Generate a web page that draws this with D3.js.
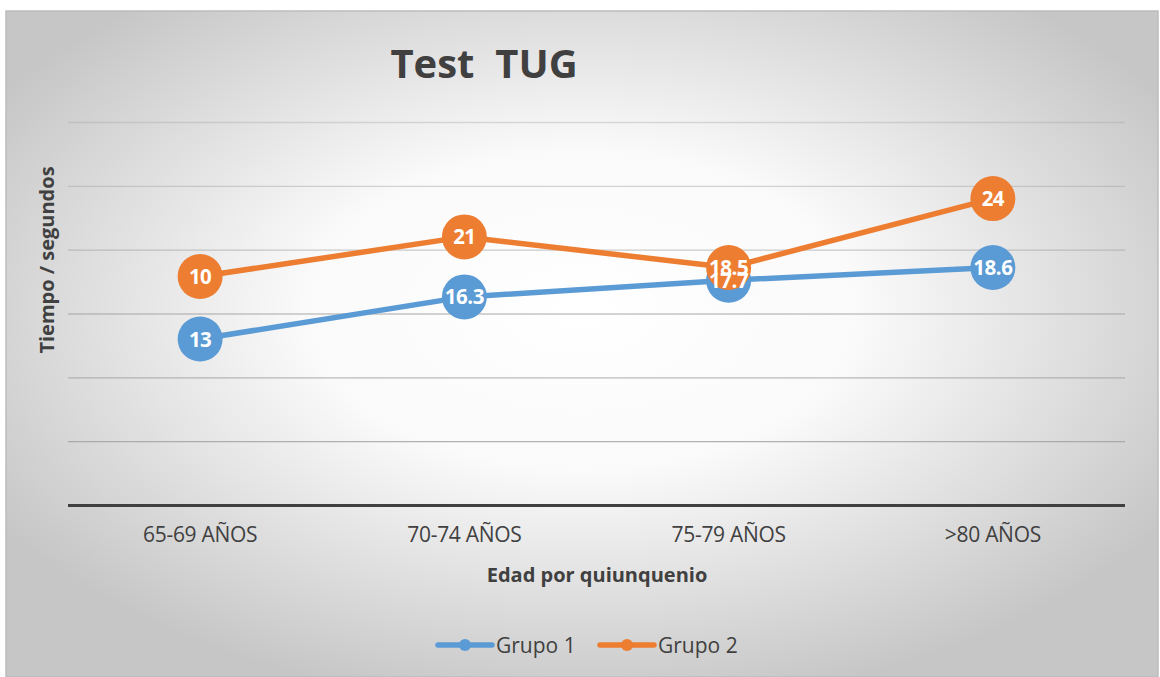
<!DOCTYPE html>
<html>
<head>
<meta charset="utf-8">
<script src="https://cdn.jsdelivr.net/npm/d3@7"></script>
<style>
  body { margin: 0; background: #fff; }
  svg { display: block; }
</style>
</head>
<body>
<div id="chart"></div>
<script>
let width = 1160;
let height = 677;

let categories = ["65-69 AÑOS", "70-74 AÑOS", "75-79 AÑOS", ">80 AÑOS"];
let grupo1 = [13, 16.3, 17.6, 18.6];
let grupo1Labels = ["13", "16.3", "17.7", "18.6"];
let grupo2 = [17.9, 21, 18.6, 24];
let grupo2Labels = ["10", "21", "18.5", "24"];
let yTicks = [0, 5, 10, 15, 20, 25, 30];

let series = [
    { name: "Grupo 1", values: grupo1, labels: grupo1Labels, color: "#5b9bd5" },
    { name: "Grupo 2", values: grupo2, labels: grupo2Labels, color: "#ed7d31" }
];

let margin = { left: 68, right: 35, top: 122, bottom: 172 };

let svg = d3.select("#chart")
    .append("svg")
    .attr("width", width)
    .attr("height", height)
    .style("font-family", "'Open Sans', sans-serif");

// background
let defs = svg.append("defs");
let grad = defs.append("radialGradient")
    .attr("id", "bg")
    .attr("cx", "0.5").attr("cy", "0.45").attr("r", "0.6");
grad.append("stop").attr("offset", "0%").attr("stop-color", "#ffffff");
grad.append("stop").attr("offset", "40%").attr("stop-color", "#fafafa");
grad.append("stop").attr("offset", "100%").attr("stop-color", "#c6c6c6");

svg.append("rect")
    .attr("x", 6).attr("y", 11)
    .attr("width", 1152).attr("height", 666)
    .attr("fill", "url(#bg)")
    .attr("stroke", "#bcbcbc")
    .attr("stroke-width", 1.5);

let x = d3.scaleBand()
    .domain(categories)
    .range([margin.left, width - margin.right]);

let y = d3.scaleLinear()
    .domain([0, 30])
    .range([height - margin.bottom, margin.top]);

// gridlines
let grid = svg.append("g")
    .attr("transform", `translate(${margin.left},0)`)
    .call(d3.axisLeft(y).tickValues(yTicks).tickSize(-(width - margin.left - margin.right)).tickFormat(""));
grid.select(".domain").remove();
grid.selectAll(".tick line")
    .attr("stroke", (d) => d === 0 ? "#404040" : "#a0a0a0")
    .attr("stroke-opacity", (d) => d === 0 ? 1 : 0.35 + 0.55 * (1 - d / 30))
    .attr("stroke-width", (d) => d === 0 ? 3 : 1.3);

// x axis labels
let xAxis = svg.append("g")
    .attr("transform", `translate(0,${y(0)})`)
    .call(d3.axisBottom(x).tickSize(0).tickPadding(22));
xAxis.select(".domain").remove();
xAxis.selectAll("text")
    .attr("font-size", 21)
    .attr("font-family", "'Open Sans', sans-serif")
    .attr("fill", "#404040")
    .style("letter-spacing", "-0.3px");

// title
svg.append("text")
    .attr("x", 484).attr("y", 78)
    .attr("text-anchor", "middle")
    .attr("font-size", 40)
    .attr("font-weight", "bold")
    .attr("fill", "#404040")
    .style("white-space", "pre")
    .text("Test  TUG");

// axis titles
svg.append("text")
    .attr("transform", "translate(54,260) rotate(-90)")
    .attr("text-anchor", "middle")
    .attr("font-size", 20)
    .attr("font-weight", "bold")
    .attr("fill", "#404040")
    .text("Tiempo / segundos");

svg.append("text")
    .attr("x", 597).attr("y", 582)
    .attr("text-anchor", "middle")
    .attr("font-size", 20)
    .attr("font-weight", "bold")
    .attr("fill", "#404040")
    .text("Edad por quiunquenio");

// lines and markers
let line = d3.line()
    .x((d, i) => x(categories[i]) + x.bandwidth() / 2)
    .y((d) => y(d));

series.forEach((s) => {
    let g = svg.append("g");
    g.append("path")
        .datum(s.values)
        .attr("d", line)
        .attr("fill", "none")
        .attr("stroke", s.color)
        .attr("stroke-width", 5.5)
        .attr("stroke-linejoin", "round");
    g.selectAll("circle")
        .data(s.values)
        .join("circle")
        .attr("cx", (d, i) => x(categories[i]) + x.bandwidth() / 2)
        .attr("cy", (d) => y(d))
        .attr("r", 22.5)
        .attr("fill", s.color);
});

// data labels on top
series.forEach((s) => {
    svg.append("g").selectAll("text")
        .data(s.values)
        .join("text")
        .attr("x", (d, i) => x(categories[i]) + x.bandwidth() / 2)
        .attr("y", (d) => y(d) + 7.5)
        .attr("text-anchor", "middle")
        .attr("font-size", 20.5)
        .attr("font-weight", "bold")
        .attr("fill", "#fff")
        .style("letter-spacing", "-0.5px")
        .text((d, i) => s.labels[i]);
});

// legend
let legend = svg.append("g").attr("transform", "translate(436,645)");
series.forEach((s, i) => {
    let lg = legend.append("g").attr("transform", `translate(${i * 162},0)`);
    lg.append("line")
        .attr("x1", 2).attr("x2", 56)
        .attr("stroke", s.color)
        .attr("stroke-width", 5.5)
        .attr("stroke-linecap", "round");
    lg.append("circle").attr("cx", 29).attr("r", 6).attr("fill", s.color);
    lg.append("text")
        .attr("x", 60).attr("y", 7.5)
        .attr("font-size", 21)
        .attr("fill", "#404040")
        .text(s.name);
});
</script>
</body>
</html>
